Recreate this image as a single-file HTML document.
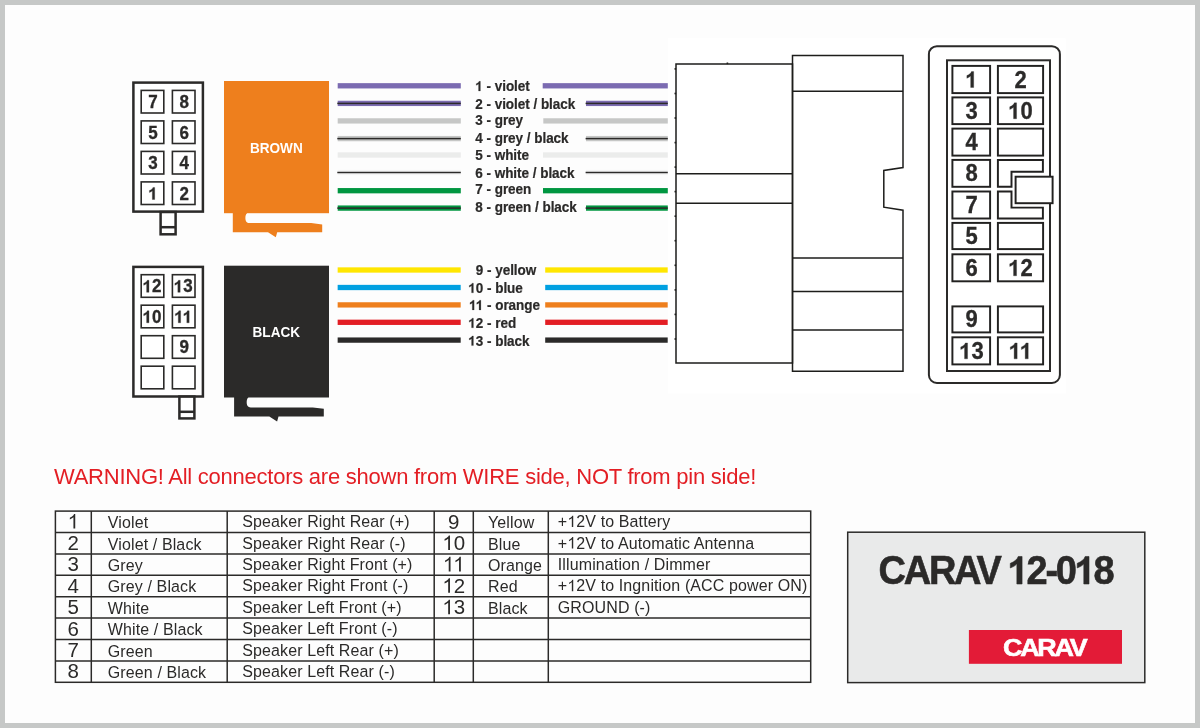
<!DOCTYPE html>
<html><head><meta charset="utf-8"><title>CARAV 12-018</title>
<style>
html,body{margin:0;padding:0;width:1200px;height:728px;overflow:hidden;background:#c6c8c7}
svg{display:block;will-change:transform}
text{font-family:"Liberation Sans",sans-serif;fill:#2b2a29}
.b17{font-size:17px;font-weight:bold;text-anchor:middle;stroke:#2b2a29;stroke-width:0.3px}
.b22{font-size:22px;font-weight:bold;text-anchor:middle;stroke:#2b2a29;stroke-width:0.3px}
.blk{font-size:14px;font-weight:bold;text-anchor:middle;fill:#fff}
.lab{font-size:13.5px;font-weight:bold;letter-spacing:-0.03px;stroke:#2b2a29;stroke-width:0.2px}
.warn{font-size:22px;fill:#e31e24;letter-spacing:-0.245px}
.tnum{font-size:20.5px;text-anchor:middle}
.tt{font-size:16px;letter-spacing:0.12px}
.big{font-size:40px;font-weight:bold;letter-spacing:-2.4px;stroke:#2b2a29;stroke-width:0.6px}
.h1{fill:transparent;stroke:none}
.logo{font-size:24px;font-weight:bold;fill:#fff;letter-spacing:-2px;stroke:#fff;stroke-width:0.6px}
</style></head><body>
<svg width="1200" height="728" viewBox="0 0 1200 728">
<rect x="0" y="0" width="1200" height="728" fill="#c6c8c7"/>
<rect x="5" y="5" width="1190" height="718" fill="#fdfdfd"/>
<rect x="667.8" y="38.2" width="398" height="355.4" fill="#ffffff"/>
<rect x="133.4" y="82.6" width="69.5" height="129.0" fill="#fff" stroke="#2b2a29" stroke-width="2.5"/>
<rect x="141.2" y="90.4" width="22.6" height="22.6" fill="none" stroke="#2b2a29" stroke-width="1.6"/>
<g transform="translate(153.00,108.00) scale(1.0,1.03)"><text id="t0" class="b17">7</text></g>
<rect x="172.4" y="90.4" width="22.6" height="22.6" fill="none" stroke="#2b2a29" stroke-width="1.6"/>
<g transform="translate(184.20,108.00) scale(1.0,1.03)"><text id="t1" class="b17">8</text></g>
<rect x="141.2" y="120.9" width="22.6" height="22.6" fill="none" stroke="#2b2a29" stroke-width="1.6"/>
<g transform="translate(153.00,138.50) scale(1.0,1.03)"><text id="t2" class="b17">5</text></g>
<rect x="172.4" y="120.9" width="22.6" height="22.6" fill="none" stroke="#2b2a29" stroke-width="1.6"/>
<g transform="translate(184.20,138.50) scale(1.0,1.03)"><text id="t3" class="b17">6</text></g>
<rect x="141.2" y="151.4" width="22.6" height="22.6" fill="none" stroke="#2b2a29" stroke-width="1.6"/>
<g transform="translate(153.00,169.00) scale(1.0,1.03)"><text id="t4" class="b17">3</text></g>
<rect x="172.4" y="151.4" width="22.6" height="22.6" fill="none" stroke="#2b2a29" stroke-width="1.6"/>
<g transform="translate(184.20,169.00) scale(1.0,1.03)"><text id="t5" class="b17">4</text></g>
<rect x="141.2" y="181.9" width="22.6" height="22.6" fill="none" stroke="#2b2a29" stroke-width="1.6"/>
<g transform="translate(153.00,199.50) scale(1.0,1.03)"><text id="t6" class="b17"><tspan class="h1">1</tspan></text><path transform="translate(-4.73,0) scale(0.00830,-0.00798)" d="M773,0 L492,0 L492,1059 Q345,920 139,855 L139,1101 Q300,1155 420,1260 Q530,1355 565,1466 L773,1466 Z" fill="#2b2a29" stroke="#2b2a29" stroke-width="36.1"/></g>
<rect x="172.4" y="181.9" width="22.6" height="22.6" fill="none" stroke="#2b2a29" stroke-width="1.6"/>
<g transform="translate(184.20,199.50) scale(1.0,1.03)"><text id="t7" class="b17">2</text></g>
<rect x="160.6" y="212" width="15" height="22.30000000000001" fill="#fff" stroke="#2b2a29" stroke-width="2.5"/>
<line x1="160.6" y1="227.2" x2="175.6" y2="227.2" stroke="#2b2a29" stroke-width="2.5"/>
<rect x="133.4" y="266.9" width="69.5" height="129.6" fill="#fff" stroke="#2b2a29" stroke-width="2.5"/>
<rect x="141.2" y="274.7" width="22.6" height="22.6" fill="none" stroke="#2b2a29" stroke-width="1.6"/>
<g transform="translate(152.00,292.30) scale(1.0,1.03)"><text id="t8" class="b17"><tspan class="h1">1</tspan>2</text><path transform="translate(-9.45,0) scale(0.00830,-0.00798)" d="M773,0 L492,0 L492,1059 Q345,920 139,855 L139,1101 Q300,1155 420,1260 Q530,1355 565,1466 L773,1466 Z" fill="#2b2a29" stroke="#2b2a29" stroke-width="36.1"/></g>
<rect x="172.4" y="274.7" width="22.6" height="22.6" fill="none" stroke="#2b2a29" stroke-width="1.6"/>
<g transform="translate(183.20,292.30) scale(1.0,1.03)"><text id="t9" class="b17"><tspan class="h1">1</tspan>3</text><path transform="translate(-9.45,0) scale(0.00830,-0.00798)" d="M773,0 L492,0 L492,1059 Q345,920 139,855 L139,1101 Q300,1155 420,1260 Q530,1355 565,1466 L773,1466 Z" fill="#2b2a29" stroke="#2b2a29" stroke-width="36.1"/></g>
<rect x="141.2" y="305.2" width="22.6" height="22.6" fill="none" stroke="#2b2a29" stroke-width="1.6"/>
<g transform="translate(152.00,322.80) scale(1.0,1.03)"><text id="t10" class="b17"><tspan class="h1">1</tspan>0</text><path transform="translate(-9.45,0) scale(0.00830,-0.00798)" d="M773,0 L492,0 L492,1059 Q345,920 139,855 L139,1101 Q300,1155 420,1260 Q530,1355 565,1466 L773,1466 Z" fill="#2b2a29" stroke="#2b2a29" stroke-width="36.1"/></g>
<rect x="172.4" y="305.2" width="22.6" height="22.6" fill="none" stroke="#2b2a29" stroke-width="1.6"/>
<g transform="translate(183.20,322.80) scale(1.0,1.03)"><text id="t11" class="b17"><tspan class="h1">1</tspan><tspan class="h1" dx="-0.913">1</tspan></text><path transform="translate(-8.99,0) scale(0.00830,-0.00798)" d="M773,0 L492,0 L492,1059 Q345,920 139,855 L139,1101 Q300,1155 420,1260 Q530,1355 565,1466 L773,1466 Z" fill="#2b2a29" stroke="#2b2a29" stroke-width="36.1"/><path transform="translate(-0.46,0) scale(0.00830,-0.00798)" d="M773,0 L492,0 L492,1059 Q345,920 139,855 L139,1101 Q300,1155 420,1260 Q530,1355 565,1466 L773,1466 Z" fill="#2b2a29" stroke="#2b2a29" stroke-width="36.1"/></g>
<rect x="141.2" y="335.7" width="22.6" height="22.6" fill="none" stroke="#2b2a29" stroke-width="1.6"/>
<rect x="172.4" y="335.7" width="22.6" height="22.6" fill="none" stroke="#2b2a29" stroke-width="1.6"/>
<g transform="translate(184.20,353.30) scale(1.0,1.03)"><text id="t12" class="b17">9</text></g>
<rect x="141.2" y="366.2" width="22.6" height="22.6" fill="none" stroke="#2b2a29" stroke-width="1.6"/>
<rect x="172.4" y="366.2" width="22.6" height="22.6" fill="none" stroke="#2b2a29" stroke-width="1.6"/>
<rect x="179.4" y="396.6" width="15" height="21.799999999999955" fill="#fff" stroke="#2b2a29" stroke-width="2.5"/>
<line x1="179.4" y1="411.8" x2="194.4" y2="411.8" stroke="#2b2a29" stroke-width="2.5"/>
<path d="M232.8,212.2 L247.0,212.2 L247.0,213.2 C245.6,214.2 245.4,216.2 245.4,218.2 C245.4,220.79999999999998 246.6,223.1 249.4,223.1 L311.2,223.1 L322.2,224.5 L322.2,232.2 L277.2,232.2 L275.8,237.2 L268.0,232.2 L232.8,232.2 Z" fill="#ee7f1d"/>
<rect x="224" y="81" width="105" height="132.2" fill="#ee7f1d"/>
<g transform="translate(276.30,152.90) scale(0.97,1.02)"><text id="t13" class="blk">BROWN</text></g>
<path d="M234.10000000000002,396.5 L248.3,396.5 L248.3,397.5 C246.9,398.5 246.70000000000002,400.5 246.70000000000002,402.5 C246.70000000000002,405.1 247.9,407.4 250.70000000000002,407.4 L312.8,407.4 L323.8,408.8 L323.8,416.5 L278.5,416.5 L277.1,421.5 L269.3,416.5 L234.10000000000002,416.5 Z" fill="#2b2a29"/>
<rect x="224" y="265.7" width="105" height="131.8" fill="#2b2a29"/>
<g transform="translate(276.30,336.50) scale(0.97,1.02)"><text id="t14" class="blk">BLACK</text></g>
<rect x="337.7" y="83.15" width="123.10" height="5.3" fill="#7b6bb1"/>
<rect x="542.7" y="83.15" width="125.10" height="5.3" fill="#7b6bb1"/>
<rect x="337.7" y="100.75" width="123.10" height="5.3" fill="#7b6bb1"/>
<rect x="337.3" y="102.65" width="123.50" height="1.5" fill="#2b2a29"/>
<rect x="586" y="100.75" width="81.80" height="5.3" fill="#7b6bb1"/>
<rect x="585.6" y="102.65" width="82.20" height="1.5" fill="#2b2a29"/>
<rect x="337.7" y="118.25" width="123.10" height="5.3" fill="#c6c7c6"/>
<rect x="543.3" y="118.25" width="124.50" height="5.3" fill="#c6c7c6"/>
<rect x="337.7" y="135.95" width="123.10" height="5.3" fill="#c6c7c6"/>
<rect x="337.3" y="137.85" width="123.50" height="1.5" fill="#2b2a29"/>
<rect x="586" y="135.95" width="81.80" height="5.3" fill="#c6c7c6"/>
<rect x="585.6" y="137.85" width="82.20" height="1.5" fill="#2b2a29"/>
<rect x="337.7" y="152.35" width="123.10" height="5.3" fill="#ebeceb"/>
<rect x="543.0" y="152.35" width="124.80" height="5.3" fill="#ebeceb"/>
<rect x="337.7" y="169.85" width="123.10" height="5.3" fill="#f4f4f4"/>
<rect x="337.3" y="171.75" width="123.50" height="1.5" fill="#2b2a29"/>
<rect x="586" y="169.85" width="81.80" height="5.3" fill="#f4f4f4"/>
<rect x="585.6" y="171.75" width="82.20" height="1.5" fill="#2b2a29"/>
<rect x="337.7" y="188.05" width="123.10" height="5.3" fill="#009640"/>
<rect x="543.0" y="188.05" width="124.80" height="5.3" fill="#009640"/>
<rect x="337.7" y="205.45" width="123.10" height="5.3" fill="#009640"/>
<rect x="337.3" y="207.35" width="123.50" height="1.5" fill="#2b2a29"/>
<rect x="586" y="205.45" width="81.80" height="5.3" fill="#009640"/>
<rect x="585.6" y="207.35" width="82.20" height="1.5" fill="#2b2a29"/>
<rect x="337.65" y="267.35" width="123.05" height="5.3" fill="#ffe600"/>
<rect x="545.2" y="267.35" width="122.50" height="5.3" fill="#ffe600"/>
<rect x="337.65" y="284.85" width="123.05" height="5.3" fill="#00a0e1"/>
<rect x="545.2" y="284.85" width="122.50" height="5.3" fill="#00a0e1"/>
<rect x="337.65" y="302.25" width="123.05" height="5.3" fill="#ee7f1d"/>
<rect x="545.2" y="302.25" width="122.50" height="5.3" fill="#ee7f1d"/>
<rect x="337.65" y="319.65" width="123.05" height="5.3" fill="#e31e24"/>
<rect x="545.2" y="319.65" width="122.50" height="5.3" fill="#e31e24"/>
<rect x="337.65" y="337.45" width="123.05" height="5.3" fill="#2b2a29"/>
<rect x="545.2" y="337.45" width="122.50" height="5.3" fill="#2b2a29"/>
<g transform="translate(475.30,91.00) scale(1.0,1.04)"><text id="t15" class="lab"><tspan class="h1">1</tspan> - violet</text><path transform="translate(0.00,0) scale(0.00659,-0.00633)" d="M773,0 L492,0 L492,1059 Q345,920 139,855 L139,1101 Q300,1155 420,1260 Q530,1355 565,1466 L773,1466 Z" fill="#2b2a29" stroke="#2b2a29" stroke-width="30.3"/></g>
<g transform="translate(475.30,108.60) scale(1.0,1.04)"><text id="t16" class="lab">2 - violet / black</text></g>
<g transform="translate(475.30,125.20) scale(1.0,1.04)"><text id="t17" class="lab">3 - grey</text></g>
<g transform="translate(475.30,142.60) scale(1.0,1.04)"><text id="t18" class="lab">4 - grey / black</text></g>
<g transform="translate(475.30,159.80) scale(1.0,1.04)"><text id="t19" class="lab">5 - white</text></g>
<g transform="translate(475.30,177.60) scale(1.0,1.04)"><text id="t20" class="lab">6 - white / black</text></g>
<g transform="translate(475.30,193.80) scale(1.0,1.04)"><text id="t21" class="lab">7 - green</text></g>
<g transform="translate(475.30,211.80) scale(1.0,1.04)"><text id="t22" class="lab">8 - green / black</text></g>
<g transform="translate(483.30,274.90) scale(1.0,1.04)"><text id="t23" class="lab" text-anchor="end">9</text></g>
<g transform="translate(487.00,274.90) scale(1.0,1.04)"><text id="t24" class="lab">- yellow</text></g>
<g transform="translate(483.30,292.80) scale(1.0,1.04)"><text id="t25" class="lab" text-anchor="end"><tspan class="h1">1</tspan>0</text><path transform="translate(-14.98,0) scale(0.00659,-0.00633)" d="M773,0 L492,0 L492,1059 Q345,920 139,855 L139,1101 Q300,1155 420,1260 Q530,1355 565,1466 L773,1466 Z" fill="#2b2a29" stroke="#2b2a29" stroke-width="30.3"/></g>
<g transform="translate(487.00,292.80) scale(1.0,1.04)"><text id="t26" class="lab">- blue</text></g>
<g transform="translate(483.30,309.90) scale(1.0,1.04)"><text id="t27" class="lab" text-anchor="end"><tspan class="h1">1</tspan><tspan class="h1" dx="-0.725">1</tspan></text><path transform="translate(-14.25,0) scale(0.00659,-0.00633)" d="M773,0 L492,0 L492,1059 Q345,920 139,855 L139,1101 Q300,1155 420,1260 Q530,1355 565,1466 L773,1466 Z" fill="#2b2a29" stroke="#2b2a29" stroke-width="30.3"/><path transform="translate(-7.49,0) scale(0.00659,-0.00633)" d="M773,0 L492,0 L492,1059 Q345,920 139,855 L139,1101 Q300,1155 420,1260 Q530,1355 565,1466 L773,1466 Z" fill="#2b2a29" stroke="#2b2a29" stroke-width="30.3"/></g>
<g transform="translate(487.00,309.90) scale(1.0,1.04)"><text id="t28" class="lab">- orange</text></g>
<g transform="translate(483.30,327.80) scale(1.0,1.04)"><text id="t29" class="lab" text-anchor="end"><tspan class="h1">1</tspan>2</text><path transform="translate(-14.98,0) scale(0.00659,-0.00633)" d="M773,0 L492,0 L492,1059 Q345,920 139,855 L139,1101 Q300,1155 420,1260 Q530,1355 565,1466 L773,1466 Z" fill="#2b2a29" stroke="#2b2a29" stroke-width="30.3"/></g>
<g transform="translate(487.00,327.80) scale(1.0,1.04)"><text id="t30" class="lab">- red</text></g>
<g transform="translate(483.30,345.60) scale(1.0,1.04)"><text id="t31" class="lab" text-anchor="end"><tspan class="h1">1</tspan>3</text><path transform="translate(-14.98,0) scale(0.00659,-0.00633)" d="M773,0 L492,0 L492,1059 Q345,920 139,855 L139,1101 Q300,1155 420,1260 Q530,1355 565,1466 L773,1466 Z" fill="#2b2a29" stroke="#2b2a29" stroke-width="30.3"/></g>
<g transform="translate(487.00,345.60) scale(1.0,1.04)"><text id="t32" class="lab">- black</text></g>
<g fill="none" stroke="#1d1d1b" stroke-width="1.5">
<rect x="676" y="64" width="116.5" height="299"/>
<line x1="676" y1="173.7" x2="792.5" y2="173.7"/>
<line x1="676" y1="203.2" x2="792.5" y2="203.2"/>
<path d="M792.5,55.5 L903,55.5 L903,167.5 L883.8,170.5 L883.8,207.2 L903,210.2 L903,371.2 L792.5,371.2 Z"/>
<line x1="792.5" y1="91.2" x2="903" y2="91.2"/>
<line x1="792.5" y1="258.1" x2="903" y2="258.1"/>
<line x1="792.5" y1="291.5" x2="903" y2="291.5"/>
<line x1="792.5" y1="329.9" x2="903" y2="329.9"/>
</g>
<rect x="674.5" y="68.1" width="1.6" height="1.6" fill="#1d1d1b"/>
<rect x="674.5" y="92.7" width="1.6" height="1.6" fill="#1d1d1b"/>
<rect x="674.5" y="117.2" width="1.6" height="1.6" fill="#1d1d1b"/>
<rect x="674.5" y="141.8" width="1.6" height="1.6" fill="#1d1d1b"/>
<rect x="674.5" y="166.3" width="1.6" height="1.6" fill="#1d1d1b"/>
<rect x="674.5" y="190.8" width="1.6" height="1.6" fill="#1d1d1b"/>
<rect x="674.5" y="215.4" width="1.6" height="1.6" fill="#1d1d1b"/>
<rect x="674.5" y="239.9" width="1.6" height="1.6" fill="#1d1d1b"/>
<rect x="674.5" y="264.5" width="1.6" height="1.6" fill="#1d1d1b"/>
<rect x="674.5" y="289.1" width="1.6" height="1.6" fill="#1d1d1b"/>
<rect x="674.5" y="313.6" width="1.6" height="1.6" fill="#1d1d1b"/>
<rect x="674.5" y="338.2" width="1.6" height="1.6" fill="#1d1d1b"/>
<rect x="726.6" y="62.5" width="1.6" height="1.6" fill="#1d1d1b"/>
<rect x="928.9" y="46.2" width="131" height="336.8" rx="8" ry="8" fill="none" stroke="#2b2a29" stroke-width="2"/>
<rect x="947" y="60.3" width="103" height="310.7" fill="#fff" stroke="#2b2a29" stroke-width="2"/>
<rect x="952.4" y="65.9" width="37.7" height="27.2" fill="none" stroke="#222120" stroke-width="1.95"/>
<g transform="translate(971.50,87.50) scale(1.0,1.05)"><text id="t33" class="b22"><tspan class="h1">1</tspan></text><path transform="translate(-6.12,0) scale(0.01074,-0.01032)" d="M773,0 L492,0 L492,1059 Q345,920 139,855 L139,1101 Q300,1155 420,1260 Q530,1355 565,1466 L773,1466 Z" fill="#2b2a29" stroke="#2b2a29" stroke-width="27.9"/></g>
<rect x="997.9" y="65.9" width="45.2" height="27.2" fill="none" stroke="#222120" stroke-width="1.95"/>
<g transform="translate(1020.50,87.50) scale(1.0,1.05)"><text id="t34" class="b22">2</text></g>
<rect x="952.4" y="97.4" width="37.7" height="26.7" fill="none" stroke="#222120" stroke-width="1.95"/>
<g transform="translate(971.50,118.75) scale(1.0,1.05)"><text id="t35" class="b22">3</text></g>
<rect x="997.9" y="97.4" width="45.2" height="26.7" fill="none" stroke="#222120" stroke-width="1.95"/>
<g transform="translate(1020.50,118.75) scale(1.0,1.05)"><text id="t36" class="b22"><tspan class="h1">1</tspan>0</text><path transform="translate(-12.24,0) scale(0.01074,-0.01032)" d="M773,0 L492,0 L492,1059 Q345,920 139,855 L139,1101 Q300,1155 420,1260 Q530,1355 565,1466 L773,1466 Z" fill="#2b2a29" stroke="#2b2a29" stroke-width="27.9"/></g>
<rect x="952.4" y="128.6" width="37.7" height="27.0" fill="none" stroke="#222120" stroke-width="1.95"/>
<g transform="translate(971.50,150.10) scale(1.0,1.05)"><text id="t37" class="b22">4</text></g>
<rect x="997.9" y="128.6" width="45.2" height="27.0" fill="none" stroke="#222120" stroke-width="1.95"/>
<rect x="952.4" y="159.9" width="37.7" height="26.9" fill="none" stroke="#222120" stroke-width="1.95"/>
<g transform="translate(971.50,181.35) scale(1.0,1.05)"><text id="t38" class="b22">8</text></g>
<rect x="952.4" y="191.5" width="37.7" height="27.0" fill="none" stroke="#222120" stroke-width="1.95"/>
<g transform="translate(971.50,213.00) scale(1.0,1.05)"><text id="t39" class="b22">7</text></g>
<rect x="952.4" y="222.9" width="37.7" height="26.2" fill="none" stroke="#222120" stroke-width="1.95"/>
<g transform="translate(971.50,244.00) scale(1.0,1.05)"><text id="t40" class="b22">5</text></g>
<rect x="997.9" y="222.9" width="45.2" height="26.2" fill="none" stroke="#222120" stroke-width="1.95"/>
<rect x="952.4" y="254.3" width="37.7" height="27.0" fill="none" stroke="#222120" stroke-width="1.95"/>
<g transform="translate(971.50,275.80) scale(1.0,1.05)"><text id="t41" class="b22">6</text></g>
<rect x="997.9" y="254.3" width="45.2" height="27.0" fill="none" stroke="#222120" stroke-width="1.95"/>
<g transform="translate(1020.50,275.80) scale(1.0,1.05)"><text id="t42" class="b22"><tspan class="h1">1</tspan>2</text><path transform="translate(-12.24,0) scale(0.01074,-0.01032)" d="M773,0 L492,0 L492,1059 Q345,920 139,855 L139,1101 Q300,1155 420,1260 Q530,1355 565,1466 L773,1466 Z" fill="#2b2a29" stroke="#2b2a29" stroke-width="27.9"/></g>
<rect x="952.4" y="306.4" width="37.7" height="26.0" fill="none" stroke="#222120" stroke-width="1.95"/>
<g transform="translate(971.50,327.40) scale(1.0,1.05)"><text id="t43" class="b22">9</text></g>
<rect x="997.9" y="306.4" width="45.2" height="26.0" fill="none" stroke="#222120" stroke-width="1.95"/>
<rect x="952.4" y="337.29999999999995" width="37.7" height="27.1" fill="none" stroke="#222120" stroke-width="1.95"/>
<g transform="translate(971.50,358.85) scale(1.0,1.05)"><text id="t44" class="b22"><tspan class="h1">1</tspan>3</text><path transform="translate(-12.24,0) scale(0.01074,-0.01032)" d="M773,0 L492,0 L492,1059 Q345,920 139,855 L139,1101 Q300,1155 420,1260 Q530,1355 565,1466 L773,1466 Z" fill="#2b2a29" stroke="#2b2a29" stroke-width="27.9"/></g>
<rect x="997.9" y="337.29999999999995" width="45.2" height="27.1" fill="none" stroke="#222120" stroke-width="1.95"/>
<g transform="translate(1020.50,358.85) scale(1.0,1.05)"><text id="t45" class="b22"><tspan class="h1">1</tspan><tspan class="h1" dx="-1.182">1</tspan></text><path transform="translate(-11.65,0) scale(0.01074,-0.01032)" d="M773,0 L492,0 L492,1059 Q345,920 139,855 L139,1101 Q300,1155 420,1260 Q530,1355 565,1466 L773,1466 Z" fill="#2b2a29" stroke="#2b2a29" stroke-width="27.9"/><path transform="translate(-0.59,0) scale(0.01074,-0.01032)" d="M773,0 L492,0 L492,1059 Q345,920 139,855 L139,1101 Q300,1155 420,1260 Q530,1355 565,1466 L773,1466 Z" fill="#2b2a29" stroke="#2b2a29" stroke-width="27.9"/></g>
<path d="M997.9,159.9 L1042.9,159.9 L1042.9,171.8 L1011.5,171.8 L1011.5,186.8 L997.9,186.8 Z" fill="none" stroke="#222120" stroke-width="1.95"/>
<path d="M997.9,191.5 L1011.5,191.5 L1011.5,207.6 L1042.9,207.6 L1042.9,218.5 L997.9,218.5 Z" fill="none" stroke="#222120" stroke-width="1.95"/>
<rect x="1015.6" y="176.7" width="37" height="26.5" fill="#fff" stroke="#222120" stroke-width="1.95"/>
<g transform="translate(54.00,484.00) scale(1.0,1.04)"><text id="t46" class="warn">WARNING! All connectors are shown from WIRE side, NOT from pin side!</text></g>
<g stroke="#2b2a29" stroke-width="1.5" fill="none">
<rect x="55.4" y="511.1" width="755.3" height="171.2"/>
<line x1="91.3" y1="511.1" x2="91.3" y2="682.3"/>
<line x1="227.2" y1="511.1" x2="227.2" y2="682.3"/>
<line x1="434.2" y1="511.1" x2="434.2" y2="682.3"/>
<line x1="473.3" y1="511.1" x2="473.3" y2="682.3"/>
<line x1="548.3" y1="511.1" x2="548.3" y2="682.3"/>
<line x1="55.4" y1="532.5" x2="810.7" y2="532.5"/>
<line x1="55.4" y1="553.9" x2="810.7" y2="553.9"/>
<line x1="55.4" y1="575.3" x2="810.7" y2="575.3"/>
<line x1="55.4" y1="596.7" x2="810.7" y2="596.7"/>
<line x1="55.4" y1="618.1" x2="810.7" y2="618.1"/>
<line x1="55.4" y1="639.5" x2="810.7" y2="639.5"/>
<line x1="55.4" y1="660.9" x2="810.7" y2="660.9"/>
</g>
<g transform="translate(73.30,528.60) scale(1.0,1.03)"><text id="t47" class="tnum"><tspan class="h1">1</tspan></text><path transform="translate(-5.70,0) scale(0.01001,-0.00962)" d="M763,0 L583,0 L583,1147 Q480,1050 223,929 L223,1103 Q420,1195 560,1330 Q620,1395 646,1466 L763,1466 Z" fill="#2b2a29"/></g>
<g transform="translate(107.80,528.10) scale(1.0,1.04)"><text id="t48" class="tt">Violet</text></g>
<g transform="translate(242.20,527.10) scale(1.0,1.04)"><text id="t49" class="tt">Speaker Right Rear (+)</text></g>
<g transform="translate(73.30,550.00) scale(1.0,1.03)"><text id="t50" class="tnum">2</text></g>
<g transform="translate(107.80,549.50) scale(1.0,1.04)"><text id="t51" class="tt">Violet / Black</text></g>
<g transform="translate(242.20,548.50) scale(1.0,1.04)"><text id="t52" class="tt">Speaker Right Rear (-)</text></g>
<g transform="translate(73.30,571.40) scale(1.0,1.03)"><text id="t53" class="tnum">3</text></g>
<g transform="translate(107.80,570.90) scale(1.0,1.04)"><text id="t54" class="tt">Grey</text></g>
<g transform="translate(242.20,569.90) scale(1.0,1.04)"><text id="t55" class="tt">Speaker Right Front (+)</text></g>
<g transform="translate(73.30,592.80) scale(1.0,1.03)"><text id="t56" class="tnum">4</text></g>
<g transform="translate(107.80,592.30) scale(1.0,1.04)"><text id="t57" class="tt">Grey / Black</text></g>
<g transform="translate(242.20,591.30) scale(1.0,1.04)"><text id="t58" class="tt">Speaker Right Front (-)</text></g>
<g transform="translate(73.30,614.20) scale(1.0,1.03)"><text id="t59" class="tnum">5</text></g>
<g transform="translate(107.80,613.70) scale(1.0,1.04)"><text id="t60" class="tt">White</text></g>
<g transform="translate(242.20,612.70) scale(1.0,1.04)"><text id="t61" class="tt">Speaker Left Front (+)</text></g>
<g transform="translate(73.30,635.60) scale(1.0,1.03)"><text id="t62" class="tnum">6</text></g>
<g transform="translate(107.80,635.10) scale(1.0,1.04)"><text id="t63" class="tt">White / Black</text></g>
<g transform="translate(242.20,634.10) scale(1.0,1.04)"><text id="t64" class="tt">Speaker Left Front (-)</text></g>
<g transform="translate(73.30,657.00) scale(1.0,1.03)"><text id="t65" class="tnum">7</text></g>
<g transform="translate(107.80,656.50) scale(1.0,1.04)"><text id="t66" class="tt">Green</text></g>
<g transform="translate(242.20,655.50) scale(1.0,1.04)"><text id="t67" class="tt">Speaker Left Rear (+)</text></g>
<g transform="translate(73.30,678.40) scale(1.0,1.03)"><text id="t68" class="tnum">8</text></g>
<g transform="translate(107.80,677.90) scale(1.0,1.04)"><text id="t69" class="tt">Green / Black</text></g>
<g transform="translate(242.20,676.90) scale(1.0,1.04)"><text id="t70" class="tt">Speaker Left Rear (-)</text></g>
<g transform="translate(453.75,528.60) scale(1.0,1.03)"><text id="t71" class="tnum">9</text></g>
<g transform="translate(488.00,528.10) scale(1.0,1.04)"><text id="t72" class="tt">Yellow</text></g>
<g transform="translate(557.80,527.10) scale(1.0,1.04)"><text id="t73" class="tt">+<tspan class="h1">1</tspan>2V to Battery</text><path transform="translate(9.47,0) scale(0.00781,-0.00751)" d="M763,0 L583,0 L583,1147 Q480,1050 223,929 L223,1103 Q420,1195 560,1330 Q620,1395 646,1466 L763,1466 Z" fill="#2b2a29"/></g>
<g transform="translate(453.75,550.00) scale(1.0,1.03)"><text id="t74" class="tnum"><tspan class="h1">1</tspan>0</text><path transform="translate(-11.41,0) scale(0.01001,-0.00962)" d="M763,0 L583,0 L583,1147 Q480,1050 223,929 L223,1103 Q420,1195 560,1330 Q620,1395 646,1466 L763,1466 Z" fill="#2b2a29"/></g>
<g transform="translate(488.00,549.50) scale(1.0,1.04)"><text id="t75" class="tt">Blue</text></g>
<g transform="translate(557.80,548.50) scale(1.0,1.04)"><text id="t76" class="tt">+<tspan class="h1">1</tspan>2V to Automatic Antenna</text><path transform="translate(9.47,0) scale(0.00781,-0.00751)" d="M763,0 L583,0 L583,1147 Q480,1050 223,929 L223,1103 Q420,1195 560,1330 Q620,1395 646,1466 L763,1466 Z" fill="#2b2a29"/></g>
<g transform="translate(453.75,571.40) scale(1.0,1.03)"><text id="t77" class="tnum"><tspan class="h1">1</tspan><tspan class="h1" dx="-1.101">1</tspan></text><path transform="translate(-10.86,0) scale(0.01001,-0.00962)" d="M763,0 L583,0 L583,1147 Q480,1050 223,929 L223,1103 Q420,1195 560,1330 Q620,1395 646,1466 L763,1466 Z" fill="#2b2a29"/><path transform="translate(-0.55,0) scale(0.01001,-0.00962)" d="M763,0 L583,0 L583,1147 Q480,1050 223,929 L223,1103 Q420,1195 560,1330 Q620,1395 646,1466 L763,1466 Z" fill="#2b2a29"/></g>
<g transform="translate(488.00,570.90) scale(1.0,1.04)"><text id="t78" class="tt">Orange</text></g>
<g transform="translate(557.80,569.90) scale(1.0,1.04)"><text id="t79" class="tt">Illumination / Dimmer</text></g>
<g transform="translate(453.75,592.80) scale(1.0,1.03)"><text id="t80" class="tnum"><tspan class="h1">1</tspan>2</text><path transform="translate(-11.41,0) scale(0.01001,-0.00962)" d="M763,0 L583,0 L583,1147 Q480,1050 223,929 L223,1103 Q420,1195 560,1330 Q620,1395 646,1466 L763,1466 Z" fill="#2b2a29"/></g>
<g transform="translate(488.00,592.30) scale(1.0,1.04)"><text id="t81" class="tt">Red</text></g>
<g transform="translate(557.80,591.30) scale(1.0,1.04)"><text id="t82" class="tt">+<tspan class="h1">1</tspan>2V to Ingnition (ACC power ON)</text><path transform="translate(9.47,0) scale(0.00781,-0.00751)" d="M763,0 L583,0 L583,1147 Q480,1050 223,929 L223,1103 Q420,1195 560,1330 Q620,1395 646,1466 L763,1466 Z" fill="#2b2a29"/></g>
<g transform="translate(453.75,614.20) scale(1.0,1.03)"><text id="t83" class="tnum"><tspan class="h1">1</tspan>3</text><path transform="translate(-11.41,0) scale(0.01001,-0.00962)" d="M763,0 L583,0 L583,1147 Q480,1050 223,929 L223,1103 Q420,1195 560,1330 Q620,1395 646,1466 L763,1466 Z" fill="#2b2a29"/></g>
<g transform="translate(488.00,613.70) scale(1.0,1.04)"><text id="t84" class="tt">Black</text></g>
<g transform="translate(557.80,612.70) scale(1.0,1.04)"><text id="t85" class="tt">GROUND (-)</text></g>
<rect x="847.7" y="532.2" width="297.1" height="150.4" fill="#e9eaea" stroke="#2b2a29" stroke-width="1.5"/>
<g transform="translate(878.60,584.00) scale(0.95,1.0)"><text id="t86" class="big">CARAV <tspan class="h1">1</tspan>2-0<tspan class="h1">1</tspan>8</text><path transform="translate(135.93,0) scale(0.01953,-0.01877)" d="M773,0 L492,0 L492,1059 Q345,920 139,855 L139,1101 Q300,1155 420,1260 Q530,1355 565,1466 L773,1466 Z" fill="#2b2a29" stroke="#2b2a29" stroke-width="30.7"/><path transform="translate(206.39,0) scale(0.01953,-0.01877)" d="M773,0 L492,0 L492,1059 Q345,920 139,855 L139,1101 Q300,1155 420,1260 Q530,1355 565,1466 L773,1466 Z" fill="#2b2a29" stroke="#2b2a29" stroke-width="30.7"/></g>
<rect x="968.9" y="630" width="153.1" height="33.8" fill="#e31b37"/>
<g transform="translate(1003.00,655.50) scale(1.12,1.0)"><text id="t87" class="logo">CARAV</text></g>
</svg>
</body></html>
